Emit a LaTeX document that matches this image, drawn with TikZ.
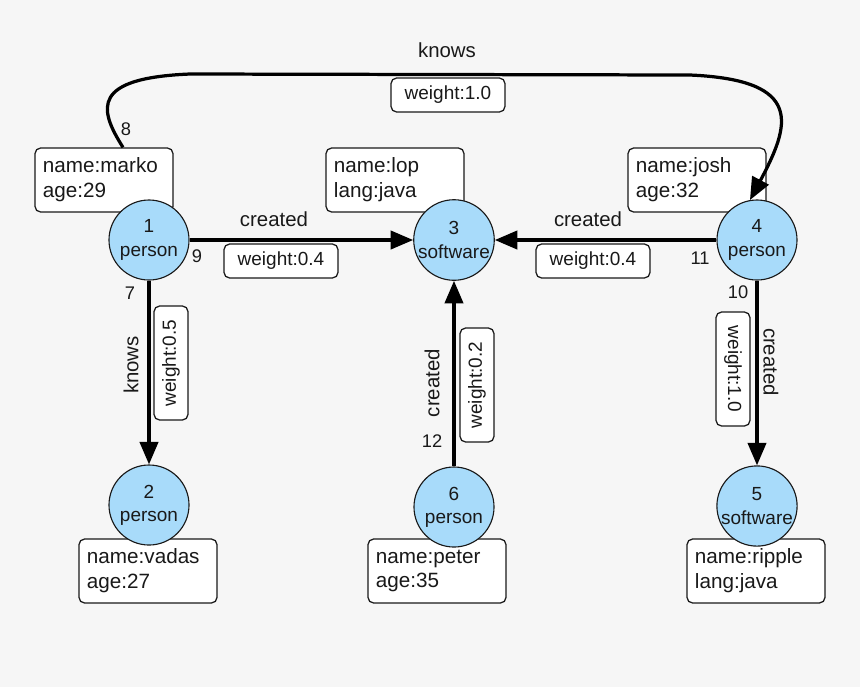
\documentclass[tikz,border=0pt]{standalone}
\usepackage{fontspec}
\setmainfont{Liberation Sans}
\usetikzlibrary{arrows.meta}
\definecolor{bgray}{RGB}{246,246,246}
\definecolor{vblue}{RGB}{168,219,250}
\definecolor{ink}{RGB}{25,25,25}
\begin{document}
\begin{tikzpicture}[x=0.025cm, y=-0.025cm, >={Triangle[length=16pt,width=13pt]},
  vertex/.style={circle, draw=ink, line width=0.8pt, fill=vblue, minimum size=2cm, inner sep=0pt,
    align=center, font=\fontsize{13.5}{16.5}\selectfont, text=ink},
  prop/.style={draw=ink, line width=0.9pt, fill=white, rounded corners=4pt, text width=3.05cm,
    inner xsep=0.2cm, minimum height=1.6cm, align=left, font=\fontsize{14.7}{17.7}\selectfont, text=ink},
  weight/.style={draw=ink, line width=0.9pt, fill=white, rounded corners=4pt, minimum width=2.85cm,
    minimum height=0.85cm, inner sep=0pt, font=\fontsize{13.5}{16}\selectfont, text=ink},
  lbl/.style={font=\fontsize{14.5}{17}\selectfont, text=ink},
  num/.style={font=\fontsize{13}{15}\selectfont, text=ink},
  edge/.style={->, line width=2.3pt, draw=black}]

\fill[bgray] (0,0) rectangle (860,687);
\useasboundingbox (0,0) rectangle (860,687);

\foreach \p/\x/\y/\t in {marko/104/180/{name:marko\\age:29}, lop/395/180/{name:lop\\lang:java},
    josh/697/180/{name:josh\\age:32}, vadas/148/571/{name:vadas\\age:27},
    peter/437/571/{name:peter\\age:35}, ripple/756/571/{name:ripple\\lang:java}}
  \node[prop] (p\p) at (\x,\y) {\t};

\foreach \n/\x/\y/\t in {1/149/240/person, 2/149/505/person, 3/454/240/software,
    4/757/240/person, 5/757/506/software, 6/454/507/person}
  \node[vertex] (v\n) at (\x,\y) {\n\\\t};

\draw[edge] (v1) -- (v3);
\draw[edge] (v4) -- (v3);
\draw[edge] (v1) -- (v2);
\draw[edge] (v6) -- (v3);
\draw[edge] (v4) -- (v5);
\draw[edge] ([xshift=0.475cm]pmarko.north) .. controls (98,108) and (92,78) .. (190,74)
  -- (690,75) .. controls (805,80) and (790,125) .. (v4.100);

\foreach \w/\x/\y/\r in {0.4/281/261/0, 0.4/593/261/0, 1.0/448/95/0,
    0.5/171/363/90, 0.2/477/385/90, 1.0/733/369/-90}
  \node[weight, rotate=\r] (w\x) at (\x,\y) {weight:\w};

\node[lbl] (lc13) at (274,219) {created};
\node[lbl] (lc43) at (588,219) {created};
\node[lbl] (lk14) at (447,50) {knows};
\node[lbl, rotate=90] (lk12) at (131,365) {knows};
\node[lbl, rotate=90] (lc63) at (432,383) {created};
\node[lbl, rotate=-90] (lc45) at (771,362) {created};

\foreach \n/\x/\y in {8/126/129, 9/197/256, 7/130/293, 11/700/258, 10/738/292, 12/432/441}
  \node[num] (e\n) at (\x,\y) {\n};

\end{tikzpicture}
\end{document}
